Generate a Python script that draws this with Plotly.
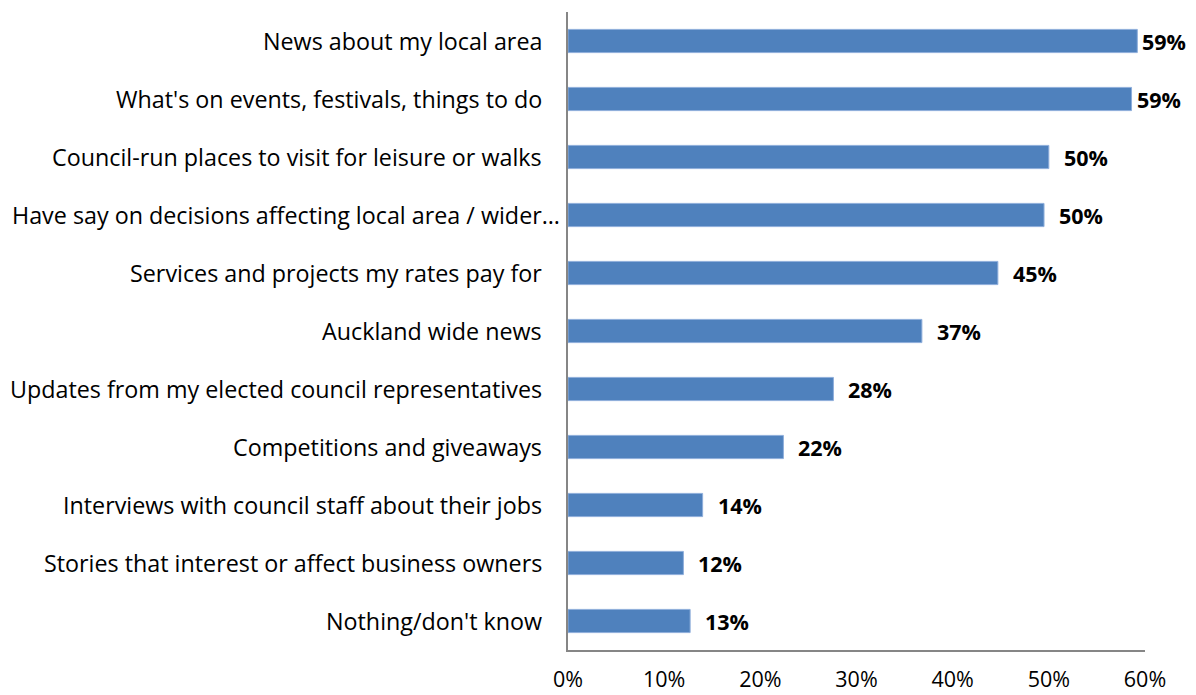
import plotly.graph_objects as go

categories = [
    "News about my local area",
    "What's on events, festivals, things to do",
    "Council-run places to visit for leisure or walks",
    "Have say on decisions affecting local area / wider…",
    "Services and projects my rates pay for",
    "Auckland wide news",
    "Updates from my elected council representatives",
    "Competitions and giveaways",
    "Interviews with council staff about their jobs",
    "Stories that interest or affect business owners",
    "Nothing/don't know",
]
shares = [0.592, 0.586, 0.500, 0.495, 0.447, 0.368, 0.276, 0.224, 0.140, 0.120, 0.127]
tick_vals = [0, 0.1, 0.2, 0.3, 0.4, 0.5, 0.6]
tick_text = ["0%", "10%", "20%", "30%", "40%", "50%", "60%"]

FONT = "Open Sans"
X_MAX = 0.6

fig = go.Figure(
    go.Bar(
        x=shares,
        y=categories,
        orientation="h",
        marker=dict(color="#4F81BD", line=dict(color="#8EAEDB", width=1)),
        hoverinfo="skip",
    )
)

# Category names, right-aligned against the vertical axis;
# the truncated (ellipsis) name is allowed to run right up to the axis
for cat in categories:
    fig.add_annotation(
        x=0,
        y=cat,
        xref="x",
        yref="y",
        text=cat,
        showarrow=False,
        xanchor="right",
        yanchor="middle",
        xshift=-6 if cat.endswith("…") else -24,
        font=dict(family=FONT, size=23.3, color="#000000"),
    )

# Value labels beside each bar; labels close to the right edge sit tighter
for cat, v in zip(categories, shares):
    fig.add_annotation(
        x=v,
        y=cat,
        xref="x",
        yref="y",
        text="<b>{:.0%}</b>".format(v),
        showarrow=False,
        xanchor="left",
        yanchor="middle",
        xshift=3 if v > 0.55 else 13,
        font=dict(family=FONT, size=21.5, color="#000000"),
    )

fig.update_layout(
    width=1196,
    height=695,
    margin=dict(l=568, r=51, t=12, b=45, autoexpand=False),
    paper_bgcolor="white",
    plot_bgcolor="white",
    bargap=0.6,
    showlegend=False,
    font=dict(family=FONT, size=22, color="#000000"),
)

fig.update_xaxes(
    range=[0, X_MAX],
    tickvals=tick_vals,
    ticktext=tick_text,
    showgrid=False,
    zeroline=False,
    showline=True,
    linecolor="#868686",
    linewidth=2,
    ticks="",
    automargin=False,
    ticklabelstandoff=9,
    tickfont=dict(family=FONT, size=21.5, color="#000000"),
)

fig.update_yaxes(
    autorange="reversed",
    showgrid=False,
    zeroline=False,
    showline=True,
    linecolor="#868686",
    linewidth=2,
    ticks="",
    showticklabels=False,
    automargin=False,
)

fig.write_html("out.html")
